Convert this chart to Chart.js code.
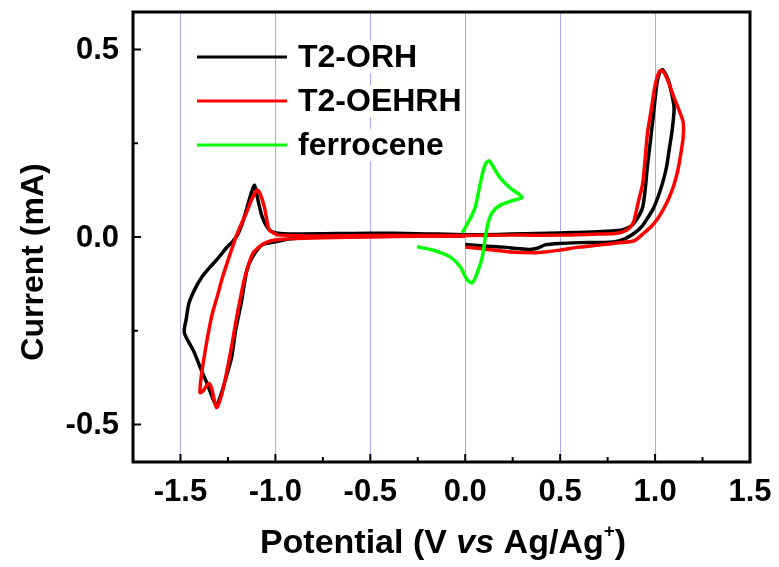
<!DOCTYPE html>
<html>
<head>
<meta charset="utf-8">
<script src="https://cdn.jsdelivr.net/npm/chart.js@4.4.1/dist/chart.umd.min.js"></script>
<style>
  html, body { margin: 0; padding: 0; background: #fff; }
  #wrap { width: 779px; height: 567px; }
</style>
</head>
<body>
<div id="wrap"><canvas id="cv" width="779" height="567"></canvas></div>
<script>
// Axis ticks
const potentialTicks = [-1.5, -1.0, -0.5, 0.0, 0.5, 1.0, 1.5];
const currentTicks = [-0.5, 0.0, 0.5];
const seriesNames = ['T2-ORH', 'T2-OEHRH', 'ferrocene'];

// T2-ORH (black) - potential (V) / current (mA), in scan order
const orhV = [-0.25, -0.4, -0.5, -0.6, -0.8, -0.92, -1.0, -1.07, -1.12, -1.15, -1.18, -1.21, -1.23, -1.26, -1.28, -1.3, -1.307,
  -1.33, -1.36, -1.386, -1.43, -1.48, -1.47, -1.455, -1.42, -1.386, -1.34, -1.296, -1.26, -1.227, -1.2, -1.175, -1.153, -1.127, -1.11,
  -1.095, -1.069, -1.032, -0.995, -0.9, -0.5, -0.25, 0.0, 0.25, 0.5, 0.7, 0.82, 0.86, 0.89, 0.935, 0.96, 0.99, 1.01, 1.025, 1.04,
  1.06, 1.075, 1.1, 1.09, 1.075, 1.06, 1.04, 1.015, 0.99, 0.96, 0.93, 0.89, 0.84, 0.78, 0.6, 0.5, 0.42, 0.38, 0.34, 0.28, 0.2, 0.1, 0.0];
const orhI = [0.006, 0.008, 0.008, 0.005, 0.0, -0.005, -0.013, -0.021, -0.053, -0.088, -0.176, -0.25, -0.32, -0.375, -0.41, -0.44, -0.452,
  -0.43, -0.39, -0.36, -0.305, -0.255, -0.22, -0.176, -0.135, -0.106, -0.078, -0.053, -0.03, -0.013, 0.005, 0.035, 0.072, 0.117, 0.138,
  0.106, 0.053, 0.019, 0.011, 0.008, 0.01, 0.009, 0.006, 0.008, 0.011, 0.014, 0.018, 0.025, 0.037, 0.08, 0.19, 0.32, 0.41, 0.44, 0.446,
  0.43, 0.41, 0.346, 0.285, 0.235, 0.186, 0.145, 0.106, 0.075, 0.05, 0.028, 0.01, -0.005, -0.013, -0.015, -0.017, -0.021, -0.03, -0.033, -0.031, -0.027, -0.024, -0.02];

// T2-OEHRH (red)
const oehrhV = [0.0, -0.25, -0.5, -0.75, -0.9, -1.0, -1.05, -1.09, -1.12, -1.145, -1.164, -1.185, -1.206, -1.23, -1.254, -1.28, -1.3, -1.31,
  -1.32, -1.335, -1.35, -1.365, -1.38, -1.397, -1.39, -1.375, -1.35, -1.33, -1.307, -1.28, -1.254, -1.225, -1.2, -1.175, -1.153, -1.125, -1.105,
  -1.095, -1.08, -1.058, -1.045, -1.032, -1.0, -0.98, -0.75, -0.5, 0.0, 0.25, 0.5, 0.7, 0.8, 0.85, 0.875, 0.89, 0.91, 0.935, 0.96, 0.98,
  0.995, 1.01, 1.026, 1.045, 1.06, 1.08, 1.1, 1.125, 1.148, 1.148, 1.135, 1.12, 1.1, 1.075, 1.045, 1.015, 0.98, 0.94, 0.89, 0.8, 0.714,
  0.6, 0.5, 0.42, 0.36, 0.24, 0.1, 0.0];
const oehrhI = [0.002, 0.002, 0.0, -0.002, -0.004, -0.008, -0.015, -0.028, -0.045, -0.08, -0.114, -0.165, -0.22, -0.29, -0.354, -0.415, -0.447, -0.455,
  -0.44, -0.405, -0.39, -0.398, -0.41, -0.415, -0.37, -0.32, -0.247, -0.2, -0.16, -0.11, -0.069, -0.025, 0.01, 0.04, 0.064, 0.1, 0.12,
  0.125, 0.115, 0.08, 0.045, 0.019, 0.008, 0.005, 0.003, 0.004, 0.004, 0.005, 0.005, 0.008, 0.01, 0.018, 0.03, 0.045, 0.09, 0.144, 0.277, 0.34,
  0.39, 0.425, 0.444, 0.44, 0.426, 0.4, 0.372, 0.34, 0.306, 0.266, 0.22, 0.178, 0.14, 0.106, 0.075, 0.05, 0.028, 0.01, -0.01, -0.016, -0.021,
  -0.027, -0.035, -0.04, -0.042, -0.04, -0.032, -0.027];

// ferrocene (green)
const fcV = [-0.016, 0.0, 0.016, 0.037, 0.053, 0.07, 0.08, 0.095, 0.11, 0.127, 0.15, 0.185, 0.238, 0.3, 0.254, 0.185, 0.143, 0.122,
  0.106, 0.09, 0.063, 0.037, 0.01, -0.026, -0.08, -0.17, -0.254];
const fcI = [0.011, 0.025, 0.04, 0.06, 0.08, 0.12, 0.144, 0.178, 0.198, 0.203, 0.185, 0.157, 0.13, 0.106, 0.098, 0.085, 0.066, 0.04,
  0.0, -0.053, -0.096, -0.122, -0.114, -0.08, -0.053, -0.035, -0.026];

const FONT = '"Liberation Sans", Arial, sans-serif';

function toPoints(xs, ys) {
  return xs.map((v, i) => ({ x: v, y: ys[i] }));
}

// Draws the box, inward ticks, tick labels, titles and the legend
const framePlugin = {
  id: 'frame',
  afterDraw(chart) {
    const ctx = chart.ctx;
    const a = chart.chartArea;
    const x = chart.scales.x;
    const y = chart.scales.y;
    ctx.save();
    ctx.strokeStyle = '#000';
    ctx.fillStyle = '#000';

    // inward ticks
    ctx.lineWidth = 2;
    for (let k = -6; k <= 5; k++) {
      const px = x.getPixelForValue(k * 0.25);
      const len = k % 2 === 0 ? 8 : 5;
      ctx.beginPath(); ctx.moveTo(px, a.bottom); ctx.lineTo(px, a.bottom - len); ctx.stroke();
    }
    for (let k = -2; k <= 2; k++) {
      const py = y.getPixelForValue(k * 0.25);
      const len = k % 2 === 0 ? 8 : 5;
      ctx.beginPath(); ctx.moveTo(a.left, py); ctx.lineTo(a.left + len, py); ctx.stroke();
    }

    // frame
    ctx.lineWidth = 3;
    ctx.strokeRect(a.left, a.top, a.right - a.left, a.bottom - a.top);

    // tick labels
    ctx.font = 'bold 31px ' + FONT;
    ctx.textAlign = 'center';
    ctx.textBaseline = 'alphabetic';
    potentialTicks.forEach(v => ctx.fillText(v.toFixed(1), x.getPixelForValue(v), a.bottom + 39));
    ctx.textAlign = 'right';
    ctx.textBaseline = 'middle';
    currentTicks.forEach(v => ctx.fillText(v.toFixed(1), a.left - 14, y.getPixelForValue(v) + 1));

    // y title
    ctx.save();
    ctx.translate(34, 262);
    ctx.rotate(-Math.PI / 2);
    ctx.textAlign = 'center';
    ctx.font = 'bold 32px ' + FONT;
    ctx.fillText('Current (mA)', 0, 0);
    ctx.restore();

    // x title with italic "vs" and superscript +
    const parts = [
      { t: 'Potential (V ', f: 'bold 34px ' + FONT, dy: 0 },
      { t: 'vs', f: 'italic bold 34px ' + FONT, dy: 0 },
      { t: ' Ag/Ag', f: 'bold 34px ' + FONT, dy: 0 },
      { t: '+', f: 'bold 19px ' + FONT, dy: -16 },
      { t: ')', f: 'bold 34px ' + FONT, dy: 0 }
    ];
    let total = 0;
    parts.forEach(p => { ctx.font = p.f; p.w = ctx.measureText(p.t).width; total += p.w; });
    let cx = 443 - total / 2;
    ctx.textAlign = 'left';
    ctx.textBaseline = 'alphabetic';
    parts.forEach(p => { ctx.font = p.f; ctx.fillText(p.t, cx, 553 + p.dy); cx += p.w; });

    // legend
    ctx.font = 'bold 32px ' + FONT;
    ctx.textBaseline = 'middle';
    chart.data.datasets.forEach((ds, i) => {
      const ly = 57 + i * 44;
      ctx.strokeStyle = ds.borderColor;
      ctx.lineWidth = 3;
      ctx.beginPath(); ctx.moveTo(197, ly); ctx.lineTo(287, ly); ctx.stroke();
      const w = ctx.measureText(ds.label).width;
      ctx.fillStyle = '#fff';
      ctx.fillRect(296, ly - 16, w + 4, 32);
      ctx.fillStyle = '#000';
      ctx.fillText(ds.label, 298, ly + 1);
    });
    ctx.restore();
  }
};

const ctx = document.getElementById('cv').getContext('2d');
const cvChart = new Chart(ctx, {
  type: 'scatter',
  data: {
    datasets: [
      { label: seriesNames[0], data: toPoints(orhV, orhI), borderColor: '#000000', order: 2 },
      { label: seriesNames[1], data: toPoints(oehrhV, oehrhI), borderColor: '#ff0000', order: 1 },
      { label: seriesNames[2], data: toPoints(fcV, fcI), borderColor: '#00ff00', order: 0 }
    ]
  },
  options: {
    responsive: false,
    animation: false,
    datasets: {
      scatter: { showLine: true, pointRadius: 0, borderWidth: 3.5, tension: 0.25, fill: false }
    },
    layout: { padding: { left: 133, top: 12, right: 29, bottom: 105 } },
    plugins: { legend: { display: false }, tooltip: { enabled: false } },
    scales: {
      x: {
        type: 'linear',
        min: -1.75,
        max: 1.5,
        afterFit: s => { s.height = 0; },
        ticks: { display: false, stepSize: 0.25 },
        border: { display: false },
        grid: {
          drawTicks: false,
          lineWidth: 1,
          color: c => {
            const v = c.tick ? c.tick.value : 0;
            const onHalf = Math.abs(v * 2 - Math.round(v * 2)) < 1e-6;
            return onHalf && v > -1.6 && v < 1.4 ? '#a8a8ff' : 'rgba(0,0,0,0)';
          }
        }
      },
      y: {
        type: 'linear',
        min: -0.6,
        max: 0.6,
        afterFit: s => { s.width = 0; },
        ticks: { display: false },
        border: { display: false },
        grid: { display: false }
      }
    }
  },
  plugins: [framePlugin]
});
</script>
</body>
</html>
